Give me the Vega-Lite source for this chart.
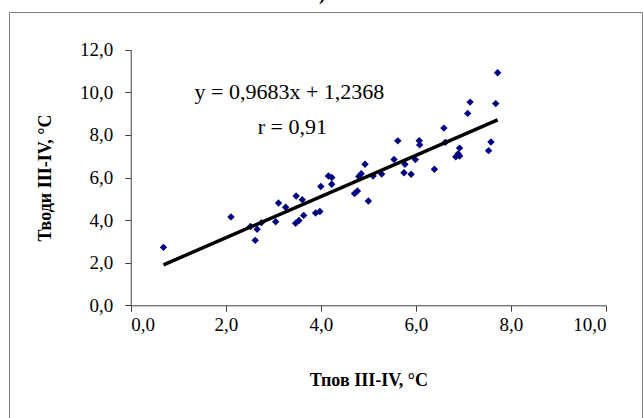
{
  "$schema": "https://vega.github.io/schema/vega-lite/v6.json",
  "autosize": "none",
  "padding": {"left": 9, "top": 12, "right": 1, "bottom": 0},
  "width": 633,
  "height": 407,
  "background": "white",
  "title": {"text": "а)", "fontSize": 19, "fontWeight": "bold", "font": "Liberation Serif", "anchor": "middle", "baseline": "alphabetic", "offset": -7, "dx": -8, "color": "black"},
  "config": {
    "font": "Liberation Serif",
    "view": {"stroke": "#7f7f7f", "strokeWidth": 1},
    "axis": {"grid": false, "domainColor": "#404040", "tickColor": "#404040", "labelColor": "black", "titleColor": "black", "labelFont": "Liberation Serif", "titleFont": "Liberation Serif", "labelFontSize": 19, "titleFontSize": 18, "titleFontWeight": "bold", "tickSize": 6}
  },
  "datasets": {
    "points": [
      {"x": 0.69, "y": 2.72}, {"x": 2.11, "y": 4.15}, {"x": 2.52, "y": 3.70}, {"x": 2.66, "y": 3.57},
      {"x": 2.62, "y": 3.05}, {"x": 2.75, "y": 3.88}, {"x": 3.05, "y": 3.92}, {"x": 3.11, "y": 4.80},
      {"x": 3.26, "y": 4.60}, {"x": 3.48, "y": 5.13}, {"x": 3.61, "y": 4.96}, {"x": 3.47, "y": 3.85},
      {"x": 3.54, "y": 3.98}, {"x": 3.64, "y": 4.22}, {"x": 3.89, "y": 4.33}, {"x": 3.98, "y": 4.40},
      {"x": 4.00, "y": 5.58}, {"x": 4.16, "y": 6.07}, {"x": 4.23, "y": 6.00}, {"x": 4.23, "y": 5.68},
      {"x": 4.71, "y": 5.25}, {"x": 4.77, "y": 5.37}, {"x": 4.85, "y": 6.18}, {"x": 4.80, "y": 6.05},
      {"x": 4.93, "y": 6.62}, {"x": 5.00, "y": 4.90}, {"x": 5.10, "y": 6.07}, {"x": 5.28, "y": 6.16},
      {"x": 5.54, "y": 6.85}, {"x": 5.62, "y": 7.72}, {"x": 5.77, "y": 6.62}, {"x": 5.75, "y": 6.22},
      {"x": 5.90, "y": 6.15}, {"x": 5.99, "y": 6.84}, {"x": 6.07, "y": 7.73}, {"x": 6.08, "y": 7.53},
      {"x": 6.39, "y": 6.39}, {"x": 6.59, "y": 8.32}, {"x": 6.62, "y": 7.65}, {"x": 6.84, "y": 6.97},
      {"x": 6.92, "y": 7.01}, {"x": 6.89, "y": 7.12}, {"x": 6.92, "y": 7.38}, {"x": 7.09, "y": 9.01},
      {"x": 7.14, "y": 9.54}, {"x": 7.53, "y": 7.26}, {"x": 7.58, "y": 7.67}, {"x": 7.68, "y": 9.47},
      {"x": 7.72, "y": 10.92}
    ],
    "trend": [{"x": 0.69, "y": 1.90}, {"x": 7.72, "y": 8.71}],
    "notes": [
      {"x": 3.34, "y": 10.03, "label": "y = 0,9683x + 1,2368"},
      {"x": 3.40, "y": 8.38, "label": "r = 0,91"}
    ]
  },
  "layer": [
    {
      "data": {"name": "points"},
      "mark": {"type": "point", "shape": "diamond", "filled": true, "size": 55, "color": "#000080", "opacity": 1},
      "encoding": {
        "x": {"field": "x", "type": "quantitative",
          "scale": {"domain": [0, 10], "range": [121.7, 597], "nice": false, "zero": false},
          "axis": {"values": [0, 2, 4, 6, 8, 10], "offset": -113.7, "labelPadding": 4, "titlePadding": 37,
            "labelExpr": "replace(format(datum.value, '.1f'), '.', ',')",
            "title": "Тпов III-IV, °С"}},
        "y": {"field": "y", "type": "quantitative",
          "scale": {"domain": [0, 12], "range": [293.3, 37.7], "nice": false, "zero": false},
          "axis": {"values": [0, 2, 4, 6, 8, 10, 12], "offset": -121.7, "labelPadding": 12, "titlePadding": 25,
            "labelExpr": "replace(format(datum.value, '.1f'), '.', ',')",
            "title": "Тводи III-IV, °С"}}
      }
    },
    {
      "data": {"name": "trend"},
      "mark": {"type": "line", "color": "black", "strokeWidth": 3.5},
      "encoding": {
        "x": {"field": "x", "type": "quantitative"},
        "y": {"field": "y", "type": "quantitative"}
      }
    },
    {
      "data": {"name": "notes"},
      "mark": {"type": "text", "font": "Liberation Serif", "fontSize": 22, "color": "black", "align": "center", "baseline": "middle"},
      "encoding": {
        "x": {"field": "x", "type": "quantitative"},
        "y": {"field": "y", "type": "quantitative"},
        "text": {"field": "label"}
      }
    }
  ]
}
